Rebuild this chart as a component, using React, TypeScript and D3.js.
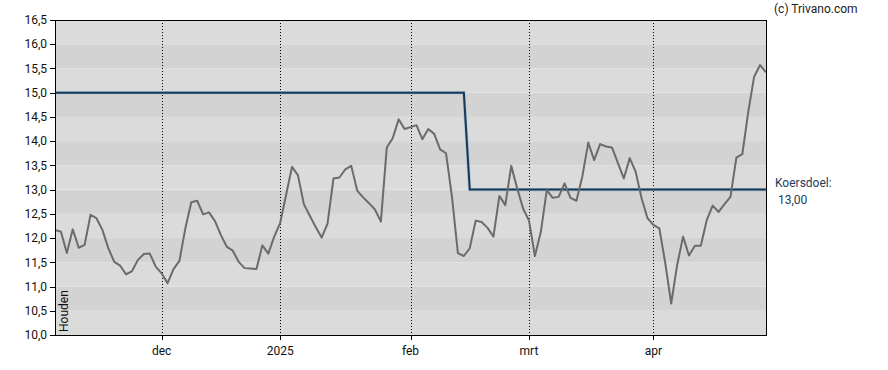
import React from "react";
import * as d3 from "d3";

// Closing prices, one per trading day (Nov 6 2024 .. Apr 30 2025)
const prices: number[] = [
  12.17, 12.13, 11.69, 12.18, 11.8, 11.86, 12.48, 12.41, 12.17, 11.79,
  11.51, 11.43, 11.25, 11.32, 11.55, 11.67, 11.68, 11.41, 11.27, 11.07,
  11.36, 11.53, 12.2, 12.74, 12.77, 12.49, 12.53, 12.35, 12.06, 11.82,
  11.74, 11.51, 11.38, 11.37, 11.36, 11.85, 11.68, 12.03, 12.31, 12.89,
  13.47, 13.3, 12.7, 12.46, 12.23, 12.01, 12.3, 13.23, 13.25, 13.42,
  13.49, 12.98, 12.84, 12.72, 12.59, 12.34, 13.87, 14.06, 14.45, 14.25,
  14.29, 14.33, 14.04, 14.25, 14.15, 13.83, 13.75, 12.85, 11.69, 11.63,
  11.79, 12.36, 12.33, 12.21, 12.03, 12.87, 12.68, 13.49, 13.03, 12.61,
  12.36, 11.63, 12.13, 12.99, 12.83, 12.85, 13.13, 12.83, 12.77, 13.27,
  13.97, 13.61, 13.94, 13.89, 13.87, 13.55, 13.23, 13.65, 13.37, 12.82,
  12.41, 12.27, 12.2, 11.48, 10.65, 11.44, 12.03, 11.64, 11.84, 11.84,
  12.37, 12.67, 12.54, 12.7, 12.85, 13.66, 13.73, 14.6, 15.33, 15.57,
  15.42,
];

// Koersdoel (price target) segments, by trading-day index
const targetSegments = [
  { from: 0, to: 69, value: 15.0 },
  { from: 70, to: 120, value: 13.0 },
];
const targetLabel = "Koersdoel:";
const targetValueLabel = "13,00";

// Month ticks: index of first trading day of month
const monthTickIndex = [18, 38, 60, 80, 101];
const monthTickLabels = ["dec", "2025", "feb", "mrt", "apr"];

const yTicks = [10, 10.5, 11, 11.5, 12, 12.5, 13, 13.5, 14, 14.5, 15, 15.5, 16, 16.5];

const W = 888;
const H = 370;
const L = 55;
const R = 766;
const T = 20;
const B = 335;
const FONT = "Roboto, 'Liberation Sans', Arial, sans-serif";

export default function App() {
  const x = d3.scaleLinear().domain([0, prices.length - 1]).range([L, R]);
  const y = d3.scaleLinear().domain([10, 16.5]).range([B, T]);

  const priceLine = d3
    .line<number>()
    .x((_, i) => x(i))
    .y((d) => y(d))(prices) as string;

  const targetPts: [number, number][] = [];
  targetSegments.forEach((s) => {
    targetPts.push([x(s.from), y(s.value)]);
    targetPts.push([x(s.to), y(s.value)]);
  });
  const targetLine = d3.line()(targetPts) as string;

  const fmt = (v: number) => v.toFixed(1).replace(".", ",");

  const bands = yTicks.slice(0, -1).map((v, i) => ({
    y0: y(v + 0.5),
    y1: y(v),
    dark: i % 2 === 1,
  }));

  return (
    <svg
      width={W}
      height={H}
      style={{ position: "absolute", left: 0, top: 0, background: "#fff" }}
      fontFamily={FONT}
    >
      {bands.map((b, i) => (
        <rect
          key={i}
          x={L}
          y={b.y0}
          width={R - L}
          height={b.y1 - b.y0}
          fill={b.dark ? "#d3d3d3" : "#dbdbdb"}
        />
      ))}
      {monthTickIndex.map((idx, i) => (
        <line
          key={"g" + i}
          x1={Math.round(x(idx)) + 0.5}
          x2={Math.round(x(idx)) + 0.5}
          y1={T}
          y2={B}
          stroke="#000"
          strokeWidth={1}
          strokeDasharray="1 2"
        />
      ))}
      <path d={targetLine} fill="none" stroke="#a9bccb" strokeWidth={3.2} />
      <path d={targetLine} fill="none" stroke="#163a5a" strokeWidth={2} />
      <path
        d={priceLine}
        fill="none"
        stroke="#6b6b6b"
        strokeWidth={2}
        strokeLinejoin="round"
      />
      <rect
        x={L + 0.5}
        y={T + 0.5}
        width={R - L}
        height={B - T}
        fill="none"
        stroke="#000"
        strokeWidth={1}
      />
      {yTicks.map((v, i) => (
        <g key={"y" + i}>
          <line x1={L - 5} x2={L} y1={Math.round(y(v)) + 0.5} y2={Math.round(y(v)) + 0.5} stroke="#000" />
          <text
            x={L - 8}
            y={y(v)}
            dy="0.35em"
            textAnchor="end"
            fontSize={12}
            fill="#111"
          >
            {fmt(v)}
          </text>
        </g>
      ))}
      {monthTickIndex.map((idx, i) => (
        <g key={"x" + i}>
          <line
            x1={Math.round(x(idx)) + 0.5}
            x2={Math.round(x(idx)) + 0.5}
            y1={B}
            y2={B + 5}
            stroke="#000"
          />
          <text x={x(idx)} y={B + 20} textAnchor="middle" fontSize={12} fill="#111">
            {monthTickLabels[i]}
          </text>
        </g>
      ))}
      <text
        transform={`translate(${L + 13},${B - 3}) rotate(-90)`}
        fontSize={12}
        fill="#111"
      >
        Houden
      </text>
      <text x={774} y={13} fontSize={12} fill="#222">
        (c) Trivano.com
      </text>
      <text x={775} y={187} fontSize={12} fill="#1d3d5c">
        {targetLabel}
      </text>
      <text x={778} y={204} fontSize={12} fill="#1d3d5c">
        {targetValueLabel}
      </text>
    </svg>
  );
}
